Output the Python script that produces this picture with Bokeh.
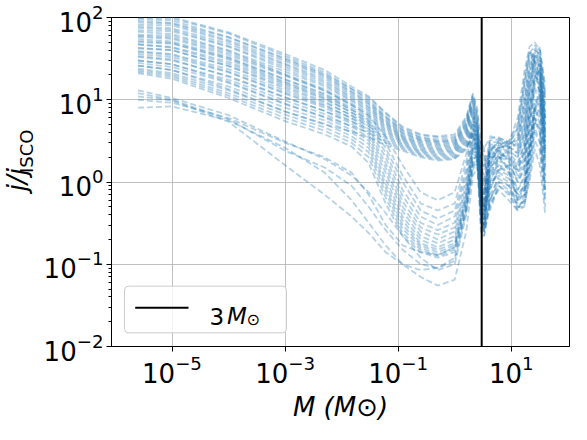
from math import pi
from bokeh.plotting import figure
from bokeh.layouts import row
from bokeh.models import Range1d, FixedTicker, Span, Label, BoxAnnotation, Arrow
from bokeh.core.properties import value
from bokeh.embed import file_html
from bokeh.resources import INLINE

# ---------------- data ----------------
mass_grid = [2.5e-6, 1e-5, 1e-4, 1e-3, 5e-3, 1.5e-2, 3e-2, 6e-2, 0.12, 0.25, 0.5, 1.0, 1.6,
             2.1, 2.5, 2.9, 3.3, 4.2, 6.0, 9.0, 13.0, 17.0, 21.0, 26.0, 32.0, 40.0]

# curves that stay on the ~2-4 plateau below 1 Msun
plateau_curves = [
    [105, 101, 66, 36, 23, 14.5, 11.0, 7.0, 4.7, 3.8, 3.6, 3.8, 6.2, 12.0, 8.0, 3.0, 2.6, 3.4, 3.5, 3.0, 6.0, 22, 44, 50, 40, 15],
    [99, 97, 64, 34, 21.5, 13.6, 10.6, 6.8, 4.5, 3.7, 3.5, 3.6, 5.9, 11.5, 7.0, 2.0, 1.4, 3.2, 3.3, 2.9, 4.5, 15, 36, 46, 34, 11],
    [96, 92, 58, 32, 20.5, 13.4, 10.0, 6.3, 4.3, 3.5, 3.3, 3.45, 5.6, 11.0, 6.5, 1.2, 0.7, 3.6, 3.4, 3.1, 5.0, 18, 40, 30, 18, 5],
    [91, 86, 57, 31, 19.8, 12.6, 9.5, 6.1, 4.2, 3.45, 3.15, 3.3, 5.3, 10.5, 6.0, 0.7, 0.45, 3.0, 3.1, 2.8, 3.5, 10, 28, 42, 30, 8],
    [87, 84, 53, 29.5, 19.0, 12.2, 9.1, 5.9, 4.0, 3.3, 3.1, 3.2, 5.1, 10.0, 5.5, 0.5, 0.3, 2.8, 3.0, 2.7, 2.8, 7, 20, 36, 26, 6],
    [82, 80, 51, 27.5, 18.0, 11.6, 8.8, 5.6, 3.9, 3.25, 3.0, 3.1, 4.9, 9.5, 5.0, 0.9, 0.6, 2.4, 2.8, 2.5, 3.8, 12, 32, 24, 12, 3.0],
    [78, 74, 48, 26.5, 17.0, 11.0, 8.3, 5.4, 3.75, 3.15, 2.9, 3.0, 4.7, 9.0, 4.5, 1.6, 1.0, 2.6, 2.9, 2.6, 2.4, 5, 15, 32, 24, 5],
    [75, 71, 45, 25.0, 16.2, 10.5, 8.0, 5.2, 3.6, 3.05, 2.8, 2.9, 4.5, 8.5, 4.0, 2.5, 1.8, 2.2, 2.6, 2.4, 2.0, 4.0, 11, 26, 20, 4.0],
    [70, 68, 44, 23.5, 15.3, 10.0, 7.6, 5.0, 3.5, 2.95, 2.7, 2.8, 4.3, 8.0, 3.8, 0.4, 0.25, 2.0, 2.5, 2.3, 1.7, 3.0, 8.0, 20, 16, 3.0],
    [67, 63, 40, 22.0, 14.6, 9.6, 7.3, 4.8, 3.4, 2.85, 2.6, 2.7, 4.1, 7.5, 3.5, 3.0, 2.2, 1.8, 2.4, 2.2, 1.4, 2.4, 6.5, 16, 13, 2.5],
    [62, 60, 39, 20.5, 13.5, 9.0, 6.9, 4.6, 3.3, 2.75, 2.5, 2.6, 3.9, 7.0, 3.2, 0.6, 0.4, 1.5, 2.2, 2.0, 1.2, 1.8, 5.0, 13, 10, 2.0],
    [58, 55, 35, 19.5, 12.8, 8.6, 6.6, 4.4, 3.2, 2.65, 2.42, 2.5, 3.7, 6.5, 3.0, 1.2, 0.9, 1.2, 2.0, 1.8, 1.0, 1.4, 3.8, 10, 8.0, 1.6],
    [55, 51, 33, 17.8, 11.9, 8.0, 6.2, 4.2, 3.1, 2.55, 2.34, 2.42, 3.5, 6.0, 2.8, 2.0, 1.5, 2.5, 2.0, 1.5, 0.6, 0.55, 1.0, 2.5, 1.6, 0.4],
    [50, 48, 31, 16.5, 11.0, 7.5, 5.9, 4.0, 3.0, 2.45, 2.26, 2.34, 3.3, 5.5, 2.6, 0.35, 0.3, 1.0, 1.8, 1.6, 0.8, 1.1, 3.0, 8.0, 6.0, 1.2],
    [47, 43, 27.5, 15.3, 10.2, 7.0, 5.5, 3.8, 2.9, 2.38, 2.18, 2.26, 3.15, 5.0, 2.5, 1.0, 0.7, 2.0, 2.6, 2.8, 4.5, 16, 38, 28, 14, 3.5],
    [42, 40, 25.5, 13.8, 9.2, 6.5, 5.1, 3.6, 2.8, 2.3, 2.1, 2.18, 3.0, 4.6, 2.4, 2.6, 2.0, 0.8, 1.5, 1.3, 0.65, 0.8, 2.2, 6.0, 4.5, 0.9],
    [38, 35, 22.0, 12.2, 8.4, 6.0, 4.8, 3.4, 2.7, 2.22, 2.02, 2.1, 2.85, 4.3, 2.2, 0.8, 0.5, 2.4, 3.0, 2.6, 3.0, 9, 24, 40, 36, 10],
    [34, 31, 19.0, 10.6, 7.3, 5.4, 4.4, 3.2, 2.6, 2.15, 1.95, 2.02, 2.7, 4.0, 2.0, 1.5, 1.2, 0.6, 1.2, 1.0, 0.5, 0.6, 1.6, 4.5, 3.2, 0.7],
    [30, 27, 16.5, 9.0, 6.2, 4.8, 4.0, 3.0, 2.5, 2.08, 1.88, 1.95, 2.6, 3.8, 1.8, 0.5, 0.35, 1.6, 2.8, 3.2, 2.6, 6, 18, 34, 44, 12],
    [26, 23, 13.5, 7.2, 5.0, 4.1, 3.5, 2.8, 2.4, 2.0, 1.82, 1.9, 2.5, 3.6, 1.6, 3.2, 2.6, 0.45, 0.9, 0.7, 0.45, 0.5, 1.2, 3.2, 2.4, 0.5],
]

# curves that dive into the U-shaped dip around 0.1-1 Msun
dip_curves = [
    [60, 57, 37, 20, 13, 8.6, 6.4, 3.6, 1.6, 0.75, 0.6, 0.75, 2.2, 6.0, 5.0, 1.0, 0.5, 2.4, 3.2, 2.9, 3.2, 8.0, 22, 38, 28, 7],
    [52, 49, 32, 17.5, 11.5, 7.6, 5.6, 3.0, 1.2, 0.55, 0.45, 0.55, 1.8, 5.0, 4.5, 0.7, 0.35, 1.4, 2.2, 2.0, 1.3, 2.0, 6.0, 18, 22, 5],
    [47, 44, 29, 16, 10.5, 7.0, 5.2, 2.6, 1.0, 0.45, 0.36, 0.45, 1.5, 4.5, 4.0, 1.4, 0.8, 2.0, 2.0, 1.4, 0.7, 0.9, 2.8, 9.0, 7.0, 1.2],
    [43, 40, 26, 14.5, 9.6, 6.4, 4.8, 2.3, 0.8, 0.38, 0.3, 0.38, 1.3, 4.0, 3.6, 0.5, 0.3, 1.1, 1.9, 2.3, 2.0, 3.5, 12, 30, 20, 4],
    [39, 36, 23.5, 13, 8.7, 5.9, 4.4, 2.0, 0.68, 0.32, 0.26, 0.32, 1.1, 3.6, 3.2, 1.8, 1.0, 2.6, 2.4, 1.8, 1.0, 1.5, 4.5, 14, 11, 2.2],
    [36, 33, 21.5, 11.8, 8.0, 5.5, 4.1, 1.7, 0.58, 0.28, 0.23, 0.28, 0.95, 3.3, 3.0, 0.6, 0.4, 0.9, 1.4, 1.2, 0.6, 0.7, 1.9, 5.5, 4.0, 0.8],
    [33, 30, 19.5, 10.8, 7.3, 5.1, 3.8, 1.5, 0.5, 0.25, 0.2, 0.25, 0.85, 3.0, 2.8, 0.9, 0.5, 1.6, 2.6, 2.7, 2.2, 4.0, 13, 34, 26, 6],
    [30, 27, 17.5, 9.8, 6.7, 4.7, 3.5, 1.3, 0.44, 0.22, 0.18, 0.22, 0.75, 2.8, 2.6, 0.4, 0.25, 0.7, 1.1, 0.9, 0.5, 0.5, 1.3, 4.0, 3.0, 0.6],
    [28, 25, 16, 8.8, 6.1, 4.3, 3.2, 1.1, 0.38, 0.2, 0.16, 0.2, 0.68, 2.6, 2.4, 1.2, 0.7, 1.9, 2.3, 2.1, 1.6, 2.8, 9.0, 24, 18, 3.5],
    [26, 23, 14.5, 8.0, 5.6, 4.0, 2.9, 0.95, 0.34, 0.18, 0.15, 0.18, 0.62, 2.4, 2.2, 0.3, 0.22, 0.5, 0.9, 0.75, 0.48, 0.6, 1.6, 5.0, 9.0, 1.5],
    [24, 21, 13, 7.2, 5.1, 3.6, 2.6, 0.85, 0.3, 0.17, 0.14, 0.17, 0.58, 2.2, 2.0, 0.8, 0.45, 1.3, 2.0, 2.4, 2.3, 5.0, 16, 30, 42, 9],
    [23, 20, 12, 6.6, 4.6, 3.3, 2.3, 0.75, 0.27, 0.16, 0.13, 0.16, 0.55, 2.0, 1.9, 0.35, 0.25, 0.55, 0.8, 0.6, 0.45, 0.7, 2.0, 7.0, 16, 2.5],
    [22, 19, 11.2, 6.0, 4.2, 3.0, 2.0, 0.65, 0.24, 0.15, 0.125, 0.15, 0.5, 1.8, 1.8, 0.5, 0.3, 1.0, 1.6, 1.5, 1.1, 1.6, 5.0, 15, 24, 4],
    [21, 18, 10.5, 5.5, 3.8, 2.7, 1.7, 0.55, 0.22, 0.14, 0.12, 0.14, 0.45, 1.6, 1.7, 0.25, 0.22, 0.6, 1.0, 0.8, 0.55, 0.8, 2.4, 8.0, 12, 2.0],
]

# the few low outliers that start near 10
outlier_curves = [
    [13, 10.5, 6.5, 3.1, 1.9, 1.2, 0.75, 0.42, 0.22, 0.12, 0.085, 0.1, 0.4, 1.6, 2.0, 0.6, 0.3, 1.2, 1.6, 1.3, 0.8, 1.2, 3.0, 8.0, 5.0, 1.0],
    [8.0, 8.3, 5.6, 2.6, 1.3, 0.6, 0.32, 0.17, 0.1, 0.07, 0.055, 0.065, 0.25, 1.2, 1.5, 0.4, 0.25, 0.6, 1.0, 0.9, 0.6, 0.9, 2.6, 7.0, 10, 1.8],
    [11, 9.8, 5.4, 1.6, 0.7, 0.38, 0.24, 0.14, 0.1, 0.085, 0.09, 0.12, 0.5, 1.8, 2.2, 0.8, 0.4, 1.5, 2.0, 1.9, 1.5, 2.5, 8.0, 20, 14, 2.5],
    [10, 9.2, 6.0, 3.0, 2.0, 1.3, 0.7, 0.3, 0.17, 0.14, 0.13, 0.16, 0.7, 2.5, 2.8, 1.0, 0.5, 0.9, 1.3, 1.1, 0.7, 0.9, 2.2, 6.0, 4.0, 0.8],
    [12, 10, 5.8, 2.4, 1.5, 0.9, 0.5, 0.26, 0.15, 0.1, 0.09, 0.11, 0.45, 1.4, 1.8, 0.5, 0.28, 0.8, 1.4, 1.6, 1.4, 2.2, 7.0, 18, 30, 6],
]

mass_threshold = 3.0
x_ticks = [1e-5, 1e-3, 1e-1, 1e1]
y_ticks = [1e-2, 1e-1, 1e0, 1e1, 1e2]
y_minor_ticks = [m * d for d in [1e-2, 1e-1, 1e0, 1e1] for m in range(2, 10)]

# ---------------- sizes (whole page fits 571 x 424) ----------------
FONT = "DejaVu Sans"
BLUE = "#1f77b4"
YLAB_W = 40          # strip that holds the y title
MAIN_W = 531
MAIN_H = 424

# ---------------- main figure ----------------
p = figure(width=MAIN_W, height=MAIN_H,
           x_axis_type="log", y_axis_type="log",
           x_range=Range1d(10 ** -6.07, 10 ** 2.03),
           y_range=Range1d(1e-2, 1e2),
           output_backend="svg", toolbar_location=None,
           min_border_left=67, min_border_right=2,
           min_border_top=17, min_border_bottom=76)

p.background_fill_color = "white"
p.border_fill_color = "white"
p.outline_line_color = "black"
p.outline_line_width = 1
p.outline_line_alpha = 1

xt = FixedTicker(ticks=x_ticks, minor_ticks=[])
yt = FixedTicker(ticks=y_ticks, minor_ticks=y_minor_ticks)
p.xaxis.ticker = xt
p.yaxis.ticker = yt
p.xgrid.ticker = xt
p.ygrid.ticker = yt

for ax in (p.xaxis, p.yaxis):
    ax.major_label_text_font = FONT
    ax.major_label_text_font_size = "26px"
    ax.major_label_text_color = "black"
    ax.axis_line_color = "black"
    ax.major_tick_line_color = "black"
    ax.minor_tick_line_color = "black"
    ax.major_tick_out = 5
    ax.major_tick_in = 0
    ax.minor_tick_out = 3
    ax.minor_tick_in = 0
p.xaxis.major_label_standoff = 3
p.yaxis.major_label_standoff = 3

# x title: drawn by the axis itself so Bokeh reserves room for it
p.xaxis.axis_label = "M (M\u2299)"
p.xaxis.axis_label_text_font = FONT
p.xaxis.axis_label_text_font_size = "26px"
p.xaxis.axis_label_text_font_style = "italic"
p.xaxis.axis_label_text_color = "black"
p.xaxis.axis_label_standoff = 6

p.grid.grid_line_color = "#b0b0b0"
p.grid.grid_line_alpha = 0.8
p.grid.grid_line_width = 1

for family in (plateau_curves, dip_curves, outlier_curves):
    for vals in family:
        n = min(len(mass_grid), len(vals))
        p.line(mass_grid[:n], vals[:n], line_color=BLUE, line_alpha=0.33,
               line_width=1.8, line_dash="6 3")

p.add_layout(Span(location=mass_threshold, dimension="height",
                  line_color="black", line_width=2))

# ---------------- legend (drawn by hand for the subscript) ----------------
p.add_layout(BoxAnnotation(left=13, right=175, bottom=13.7, top=60.3,
                           left_units="screen", right_units="screen",
                           bottom_units="screen", top_units="screen",
                           fill_color="white", fill_alpha=0.8,
                           line_color="#cccccc", line_width=1, line_alpha=1,
                           border_radius=4))
p.add_layout(Arrow(x_start=23.7, y_start=38.7, x_end=77, y_end=38.7,
                   start_units="screen", end_units="screen",
                   start=None, end=None, line_color="black", line_width=2))


def lab(text, x, y, size="26px", style="normal"):
    p.add_layout(Label(x=x, y=y, x_units="screen", y_units="screen",
                       text=text, text_font=FONT, text_font_size=size,
                       text_font_style=style, text_color="black",
                       text_align="left", text_baseline="alphabetic"))


lab("3", 98, 30.5, size="23px")
lab("M", 115.5, 30.5, size="23px", style="italic")
lab("\u2299", 135, 27.5, size="16px")


# ---------------- y-title strip (pixel-unit helper figure) ----------------
ylab = figure(width=YLAB_W, height=MAIN_H,
              x_range=Range1d(0, YLAB_W), y_range=Range1d(0, MAIN_H),
              output_backend="svg", toolbar_location=None,
              x_axis_location=None, y_axis_location=None, min_border=0)
ylab.outline_line_color = None
ylab.grid.visible = False
ylab.background_fill_color = "white"
ylab.border_fill_color = "white"


def txt(f, text, x, y, size="26px", style="normal", angle=0.0):
    f.text(x=[x], y=[y], text=[text], text_font=value(FONT),
           text_font_size=value(size), text_font_style=value(style),
           text_color="black", text_align=value("left"),
           text_baseline=value("middle"), angle=angle)


txt(ylab, "j/j", 16, MAIN_H - 224, style="italic", angle=pi / 2)
txt(ylab, "ISCO", 26, MAIN_H - 200.5, size="18px", angle=pi / 2)

layout = row(ylab, p, spacing=0)

open("out.html", "w").write(file_html(layout, INLINE))
